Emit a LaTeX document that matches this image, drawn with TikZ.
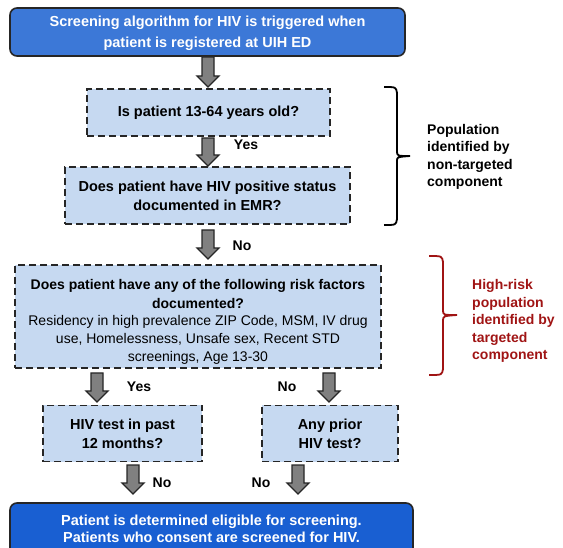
\documentclass[tikz,border=0pt]{standalone}
\usepackage{fontspec}
\setmainfont{Liberation Sans}
\usetikzlibrary{calc}
\definecolor{topblue}{RGB}{60,120,215}
\definecolor{botblue}{RGB}{25,95,210}
\definecolor{qfill}{RGB}{198,217,241}
\definecolor{arrgray}{RGB}{128,128,128}
\definecolor{darkred}{RGB}{160,20,20}
\tikzset{
  bluebox/.style={draw=black!85, line width=1.6pt, rounded corners=7pt, text=white,
    font=\fontsize{14.5}{21}\selectfont\bfseries, align=center, inner sep=0pt},
  qbox/.style={draw=black!85, line width=1.6pt, dash pattern=on 7pt off 4pt, fill=qfill,
    font=\fontsize{14.5}{19}\selectfont\bfseries, align=center, inner sep=0pt},
  lbl/.style={font=\fontsize{14}{17}\selectfont\bfseries, inner sep=0pt},
  sidelbl/.style={font=\fontsize{14}{17.5}\selectfont\bfseries, align=left, anchor=west, inner sep=0pt},
  barrow/.style={draw=black!85, line width=1.3pt, fill=arrgray, line join=miter},
  brace/.style={line width=1.8pt}
}
\newcommand\blockarrow[2]{%
  \draw[barrow] let \p1=#1, \p2=#2 in
    (\x1-6pt,\y1) -- (\x1+6pt,\y1) -- (\x1+6pt,\y2+11pt) -- (\x1+11pt,\y2+11pt)
    -- (\x1,\y2) -- (\x1-11pt,\y2+11pt) -- (\x1-6pt,\y2+11pt) -- cycle;}
\begin{document}
\begin{tikzpicture}[x=1pt,y=-1pt]
\useasboundingbox (0,0) rectangle (563,548);
\clip (0,0) rectangle (563,548);

% boxes
\node[bluebox, fill=topblue, minimum width=395, minimum height=48] (start) at (207.5,32) {};
\node[font=\fontsize{14.5}{21}\selectfont\bfseries, text=white, align=center, inner sep=0pt]
  (starttxt) at (207.5,33.5)
  {Screening algorithm for HIV is triggered when\\patient is registered at UIH ED};
\node[qbox, minimum width=243, minimum height=47] (age) at (208.5,112.5)
  {Is patient 13-64 years old?};
\node[qbox, minimum width=285, minimum height=57] (emr) at (207.5,195.5)
  {Does patient have HIV positive status\\documented in EMR?};
\node[qbox, minimum width=366, minimum height=103] (risk) at (198,316.5) {};
\node[font=\fontsize{14}{19}\selectfont\bfseries, align=center, inner sep=0pt]
  (risktxt) at (198,322)
  {Does patient have any of the following risk factors\\
   documented?\\[-2pt]
   \fontsize{14}{17}\selectfont\mdseries Residency in high prevalence ZIP Code, MSM, IV drug\\[-1pt]
   \fontsize{14}{17}\selectfont\mdseries use, Homelessness, Unsafe sex, Recent STD\\[-1pt]
   \fontsize{14}{17}\selectfont\mdseries screenings, Age 13-30};
\node[qbox, minimum width=159, minimum height=56] (past) at (122.5,433.5)
  {HIV test in past\\12 months?};
\node[qbox, minimum width=136, minimum height=56] (prior) at (330,433.5)
  {Any prior\\HIV test?};
\node[bluebox, fill=botblue, minimum width=403, minimum height=60] (elig) at (211.5,533) {};
\node[font=\fontsize{14.5}{17.5}\selectfont\bfseries, text=white, align=center, inner sep=0pt]
  (eligtxt) at (211.5,529)
  {Patient is determined eligible for screening.\\Patients who consent are screened for HIV.};

% arrow endpoints
\coordinate (a1t) at (208,57);  \coordinate (a1b) at (208,87);
\coordinate (a2t) at (208,138); \coordinate (a2b) at (208,166);
\coordinate (a3t) at (208,230); \coordinate (a3b) at (208,259);
\coordinate (a4t) at (97,373);  \coordinate (a4b) at (97,402);
\coordinate (a5t) at (329,373); \coordinate (a5b) at (329,402);
\coordinate (a6t) at (133,465); \coordinate (a6b) at (133,494);
\coordinate (a7t) at (298,465); \coordinate (a7b) at (298,494);
\blockarrow{(a1t)}{(a1b)}
\blockarrow{(a2t)}{(a2b)}
\blockarrow{(a3t)}{(a3b)}
\blockarrow{(a4t)}{(a4b)}
\blockarrow{(a5t)}{(a5b)}
\blockarrow{(a6t)}{(a6b)}
\blockarrow{(a7t)}{(a7b)}

% arrow labels
\node[lbl] (yes1) at (246,145) {Yes};
\node[lbl] (no1) at (242,246) {No};
\node[lbl] (yes2) at (139,387) {Yes};
\node[lbl] (no2) at (287,387) {No};
\node[lbl] (no3) at (162,483) {No};
\node[lbl] (no4) at (261,483) {No};

% black brace
\draw[brace] (384,87) .. controls (396,87) .. (397,93) -- (397,151)
  .. controls (397,156) .. (410,156) .. controls (397,157) .. (397,161)
  -- (397,219) .. controls (396,225) .. (384,225);
\node[sidelbl] (pop) at (427,157)
  {Population\\identified by\\non-targeted\\component};

% red brace
\draw[brace, draw=darkred] (429,256) .. controls (442,256) .. (443,262) -- (443,310)
  .. controls (443,315) .. (457,315) .. controls (443,316) .. (443,321)
  -- (443,369) .. controls (442,375) .. (429,375);
\node[sidelbl, text=darkred] (hr) at (472,321)
  {High-risk\\population\\identified by\\targeted\\component};
\end{tikzpicture}
\end{document}
